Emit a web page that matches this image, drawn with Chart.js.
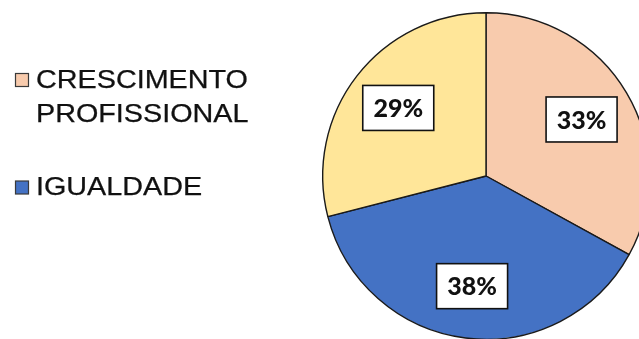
<!DOCTYPE html>
<html>
<head>
<meta charset="utf-8">
<script src="https://cdn.jsdelivr.net/npm/chart.js@4/dist/chart.umd.min.js"></script>
<style>
  html, body { margin: 0; padding: 0; background: #fff; overflow: hidden; }
  #wrap { position: relative; width: 639px; height: 339px; overflow: hidden; }
  canvas { position: absolute; left: 0; top: 0; }
</style>
</head>
<body>
<div id="wrap"><canvas id="c" width="680" height="360"></canvas></div>
<script>
// Share of responses per category
const categories = [["CRESCIMENTO", "PROFISSIONAL"], ["IGUALDADE"], []];
const shares = [33, 38, 29];
const sliceColors = ["#F8CBAD", "#4472C4", "#FFE699"];

// Legend on the left: square swatch + stretched caps text
const legendPlugin = {
  id: "sideLegend",
  afterDraw(chart) {
    const ctx = chart.ctx;
    const rows = [
      { idx: 0, swatchY: 73, baselines: [87.5, 121.5] },
      { idx: 1, swatchY: 180.5, baselines: [194.5] }
    ];
    ctx.save();
    rows.forEach(r => {
      const lines = categories[r.idx];
      if (!lines.length) return;
      ctx.fillStyle = sliceColors[r.idx];
      ctx.fillRect(15.5, r.swatchY + 0.5, 13, 13);
      ctx.strokeStyle = "#3a3a3a";
      ctx.lineWidth = 1.2;
      ctx.strokeRect(15.5, r.swatchY + 0.5, 13, 13);
      ctx.fillStyle = "#111";
      ctx.strokeStyle = "#111";
      ctx.lineWidth = 0.25;
      ctx.font = "25px 'Liberation Sans', Arial, sans-serif";
      ctx.textBaseline = "alphabetic";
      lines.forEach((t, i) => {
        ctx.save();
        ctx.translate(36, r.baselines[i]);
        ctx.scale(1.15, 1);
        ctx.fillText(t, 0, 0);
        ctx.strokeText(t, 0, 0);
        ctx.restore();
      });
    });
    ctx.restore();
  }
};

// Boxed percentage labels inside each slice
const boxLabels = {
  id: "boxLabels",
  afterDatasetsDraw(chart) {
    const ctx = chart.ctx;
    const meta = chart.getDatasetMeta(0);
    ctx.save();
    meta.data.forEach((arc, i) => {
      const p = arc.getProps(["x", "y", "startAngle", "endAngle", "outerRadius"], true);
      const mid = (p.startAngle + p.endAngle) / 2;
      const r = p.outerRadius * 0.68;
      const cx = p.x + Math.cos(mid) * r;
      const cy = p.y + Math.sin(mid) * r;
      const w = 71, h = 45;
      ctx.fillStyle = "#fff";
      ctx.fillRect(cx - w / 2, cy - h / 2, w, h);
      ctx.strokeStyle = "#111";
      ctx.lineWidth = 1.6;
      ctx.strokeRect(cx - w / 2, cy - h / 2, w, h);
      ctx.fillStyle = "#111";
      ctx.font = "900 25px Lato, 'Open Sans', sans-serif";
      ctx.textAlign = "center";
      ctx.textBaseline = "middle";
      ctx.fillText(shares[i] + "%", cx, cy + 1);
    });
    ctx.restore();
  }
};

new Chart(document.getElementById("c"), {
  type: "pie",
  data: {
    labels: categories.map(l => l.join(" ")),
    datasets: [{
      data: shares,
      backgroundColor: sliceColors,
      borderColor: "#1a1a1a",
      borderWidth: 1.4
    }]
  },
  options: {
    responsive: false,
    animation: false,
    layout: { padding: { left: 322, top: 12, right: 30, bottom: 20 } },
    plugins: {
      legend: { display: false },
      tooltip: { enabled: false }
    }
  },
  plugins: [boxLabels, legendPlugin]
});
</script>
</body>
</html>
